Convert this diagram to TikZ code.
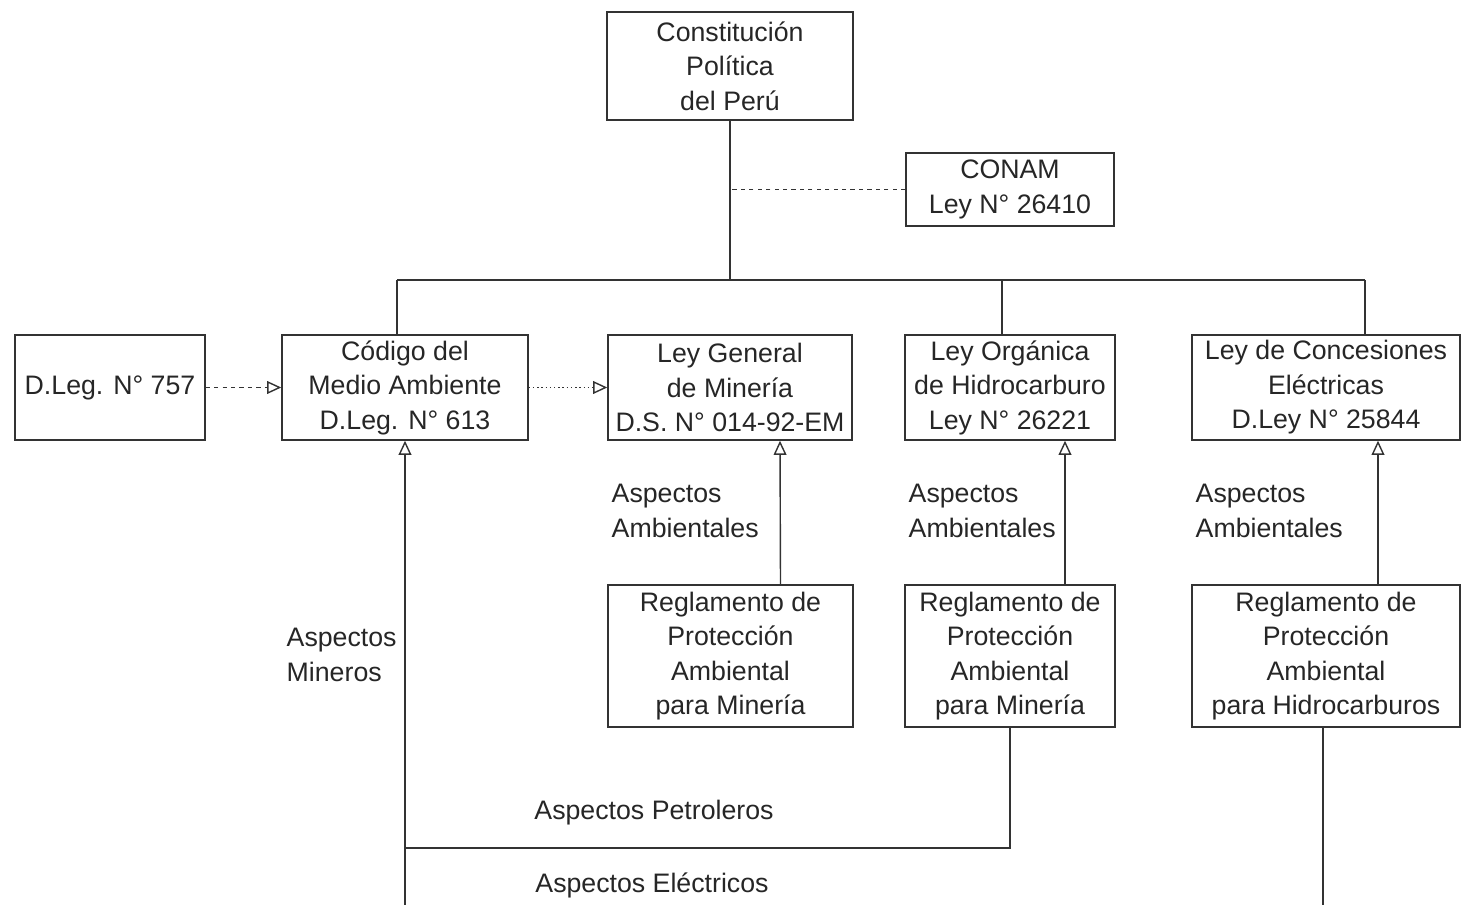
\documentclass[tikz,border=0pt]{standalone}
\usepackage{fontspec}
\setmainfont{Liberation Sans}
\usetikzlibrary{arrows.meta,calc}

\begin{document}
\begin{tikzpicture}[x=0.025cm, y=-0.025cm, font=\fontsize{19}{24.5}\selectfont, text=black!85, line width=1pt,
  ley/.style={draw=black!80, align=center, inner sep=0pt, minimum height=2.625cm},
  reg/.style={draw=black!80, align=center, inner sep=0pt, minimum height=3.55cm},
  up/.style={-{Triangle[open, length=10pt, width=9pt]}},
  aspect/.style={align=left, anchor=west, inner sep=0pt}]
  \useasboundingbox (0,0) rectangle (1462,905);
  % top of the tree
  \node[ley, minimum width=6.15cm, minimum height=2.7cm] (const) at (730,66) {Constitución\\Política\\del Perú};
  \node[ley, minimum width=5.2cm, minimum height=1.825cm] (conam) at (1010,189.5) {CONAM\\Ley N° 26410};
  % laws
  \node[ley, minimum width=4.75cm] (dleg) at (110,387.5) {D.Leg. N° 757};
  \node[ley, minimum width=6.15cm] (codigo) at (405,387.5) {Código del\\Medio Ambiente\\D.Leg. N° 613};
  \node[ley, minimum width=6.1cm] (leygen) at (730,387.5) {Ley General\\de Minería\\D.S. N° 014-92-EM};
  \node[ley, minimum width=5.25cm] (leyorg) at (1010,387.5) {Ley Orgánica\\de Hidrocarburo\\Ley N° 26221};
  \node[ley, minimum width=6.7cm] (leycon) at (1326,387.5) {Ley de Concesiones\\Eléctricas\\D.Ley N° 25844};
  % regulations
  \node[reg, minimum width=6.125cm] (regmin) at (730.5,656) {Reglamento de\\Protección\\Ambiental\\para Minería};
  \node[reg, minimum width=5.25cm] (reghid) at (1010,656) {Reglamento de\\Protección\\Ambiental\\para Minería};
  \node[reg, minimum width=6.7cm] (regele) at (1326,656) {Reglamento de\\Protección\\Ambiental\\para Hidrocarburos};
  % bus
  \coordinate (b1) at (397,280);
  \coordinate (b2) at (727,280);
  \coordinate (b3) at (1002,280);
  \coordinate (b4) at (1365,280);
  \coordinate (pj) at (405,848);
  \coordinate (bot1) at (405,905);
  \coordinate (bot2) at (1323,905);
  \draw[black!80] (const.south) -- (const.south |- b2) (b1) -- (b4)
    (b1) -- (b1 |- codigo.north) (b3) -- (b3 |- leyorg.north) (b4) -- (b4 |- leycon.north);
  \draw[black!80, dashed] (conam.west) -- (conam.west -| const.south);
  \draw[black!80, up, dashed] (dleg) -- (codigo);
  \draw[black!80, up, dotted] (codigo) -- (leygen);
  % aspects
  \draw[black!80, up] ($(regmin.north)+(50,0)$) -- ($(leygen.south)+(50,0)$);
  \draw[black!80, up] ($(reghid.north)+(55,0)$) -- ($(leyorg.south)+(55,0)$);
  \draw[black!80, up] ($(regele.north)+(52,0)$) -- ($(leycon.south)+(52,0)$);
  \draw[black!80, up] (bot1) -- (codigo.south);
  \draw[black!80] (reghid.south) |- (pj);
  \draw[black!80] (regele.south -| bot2) -- (bot2);
  \node[aspect] (asp1) at (611,511) {Aspectos\\Ambientales};
  \node[aspect] (asp2) at (908,511) {Aspectos\\Ambientales};
  \node[aspect] (asp3) at (1195,511) {Aspectos\\Ambientales};
  \node[aspect] (asp4) at (286,655) {Aspectos\\Mineros};
  \node (asp5) at (654,813) {Aspectos Petroleros};
  \node (asp6) at (652,885) {Aspectos Eléctricos};
\end{tikzpicture}
\end{document}
